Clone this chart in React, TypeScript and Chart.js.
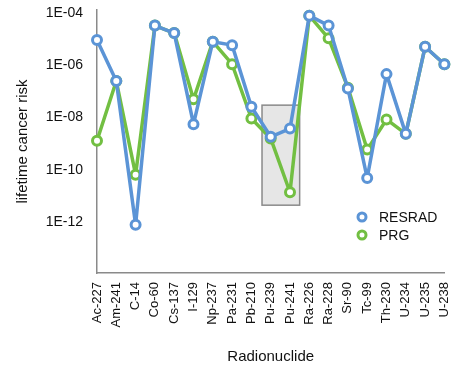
import { useEffect, useRef } from "react";
import { Chart, registerables } from "chart.js";

Chart.register(...registerables);

const categories = [
  "Ac-227", "Am-241", "C-14", "Co-60", "Cs-137", "I-129", "Np-237", "Pa-231", "Pb-210",
  "Pu-239", "Pu-241", "Ra-226", "Ra-228", "Sr-90", "Tc-99", "Th-230", "U-234", "U-235", "U-238",
];

const resradValues = [
  9.3e-6, 2.5e-7, 8e-13, 3.3e-5, 1.7e-5, 5.6e-9, 8e-6, 5.9e-6, 2.6e-8,
  1.85e-9, 3.8e-9, 7.9e-5, 3.3e-5, 1.3e-7, 4.9e-11, 4.6e-7, 2.4e-9, 5.1e-6, 1.1e-6,
];

const prgValues = [
  1.3e-9, 2.5e-7, 6.6e-11, 3.3e-5, 1.7e-5, 5e-8, 8e-6, 1.1e-6, 9.3e-9,
  1.6e-9, 1.4e-11, 7.9e-5, 1.07e-5, 1.4e-7, 6e-10, 8.5e-9, 2.4e-9, 5.1e-6, 1.1e-6,
];

const seriesNames = ["RESRAD", "PRG"];

const yTickValues = [1e-12, 1e-10, 1e-8, 1e-6, 1e-4];
const yTickLabels = ["1E-12", "1E-10", "1E-08", "1E-06", "1E-04"];
const yRange = [1.15e-14, 1.3e-4];

// highlight box around Pu-239 / Pu-241 (category index range, value range)
const highlightX = [8.55, 10.5];
const highlightY = [4.5e-12, 3.0e-8];

const BLUE = "#5b94d6";
const GREEN = "#72bf42";
const AXIS = "#8a8a8a";
const TEXT = "#111111";
const FONT = "'Liberation Sans', Arial, Helvetica, sans-serif";

const highlightPlugin = {
  id: "highlightBox",
  beforeDatasetsDraw(chart: any) {
    const { ctx, scales } = chart;
    const x = scales.x;
    const y = scales.y;
    const x0 = x.getPixelForValue(highlightX[0]);
    const x1 = x.getPixelForValue(highlightX[1]);
    const y0 = y.getPixelForValue(highlightY[1]);
    const y1 = y.getPixelForValue(highlightY[0]);
    ctx.save();
    ctx.fillStyle = "#e6e6e6";
    ctx.fillRect(x0, y0, x1 - x0, y1 - y0);
    ctx.strokeStyle = AXIS;
    ctx.lineWidth = 1.5;
    ctx.strokeRect(x0, y0, x1 - x0, y1 - y0);
    ctx.restore();
  },
};

const legendPlugin = {
  id: "insideLegend",
  afterDraw(chart: any) {
    const { ctx } = chart;
    const baseX = 362;
    const baseY = 217;
    const rowGap = 18;
    ctx.save();
    chart.data.datasets.forEach((ds: any, i: number) => {
      const cy = baseY + i * rowGap;
      ctx.beginPath();
      ctx.arc(baseX, cy, 4, 0, Math.PI * 2);
      ctx.fillStyle = "#ffffff";
      ctx.fill();
      ctx.lineWidth = 3;
      ctx.strokeStyle = ds.borderColor;
      ctx.stroke();
      ctx.fillStyle = TEXT;
      ctx.font = `14px ${FONT}`;
      ctx.textAlign = "left";
      ctx.textBaseline = "middle";
      ctx.fillText(ds.label, baseX + 17, cy + 1);
    });
    ctx.restore();
  },
};

export default function App() {
  const canvasRef = useRef<HTMLCanvasElement | null>(null);

  useEffect(() => {
    if (!canvasRef.current) return;
    const chart = new Chart(canvasRef.current, {
      type: "line",
      data: {
        labels: categories,
        datasets: [
          {
            label: seriesNames[0],
            data: resradValues,
            borderColor: BLUE,
            backgroundColor: "#ffffff",
            pointBackgroundColor: "#ffffff",
            pointBorderColor: BLUE,
            borderWidth: 3.5,
            borderJoinStyle: "round",
            pointRadius: 4.5,
            pointBorderWidth: 3,
            tension: 0,
            clip: false as any,
          },
          {
            label: seriesNames[1],
            data: prgValues,
            borderColor: GREEN,
            backgroundColor: "#ffffff",
            pointBackgroundColor: "#ffffff",
            pointBorderColor: GREEN,
            borderWidth: 3.5,
            borderJoinStyle: "round",
            pointRadius: 4.5,
            pointBorderWidth: 3,
            tension: 0,
            clip: false as any,
          },
        ],
      },
      options: {
        responsive: false,
        animation: false,
        devicePixelRatio: 1,
        events: [],
        layout: { padding: { left: 0, right: 15, top: 10, bottom: 0 } },
        plugins: {
          legend: { display: false },
          tooltip: { enabled: false },
        },
        scales: {
          x: {
            type: "category",
            offset: false,
            grid: { display: false, drawTicks: false },
            border: { display: true, color: AXIS, width: 1.5 },
            ticks: {
              autoSkip: false,
              maxRotation: 90,
              minRotation: 90,
              padding: 9,
              color: TEXT,
              font: { family: FONT, size: 13 },
            },
            title: {
              display: true,
              text: "Radionuclide",
              color: TEXT,
              font: { family: FONT, size: 15 },
              padding: { top: 0, bottom: 2 },
            },
            afterFit(scale: any) {
              scale.height = 95;
            },
          },
          y: {
            type: "logarithmic",
            min: yRange[0],
            max: yRange[1],
            grid: { display: false, drawTicks: true, tickLength: 13 },
            border: { display: true, color: AXIS, width: 1.5 },
            ticks: {
              padding: 1,
              color: TEXT,
              font: { family: FONT, size: 14 },
              callback(value: any) {
                const idx = yTickValues.findIndex((v) => Math.abs(v - Number(value)) / v < 1e-6);
                return idx >= 0 ? yTickLabels[idx] : "";
              },
            },
            afterBuildTicks(scale: any) {
              scale.ticks = yTickValues.map((v) => ({ value: v, major: true }));
            },
            title: {
              display: true,
              text: "lifetime cancer risk",
              color: TEXT,
              font: { family: FONT, size: 15 },
              padding: { top: 14, bottom: 0 },
            },
            afterFit(scale: any) {
              scale.width = 97;
            },
          },
        },
      },
      plugins: [highlightPlugin, legendPlugin],
    });
    return () => chart.destroy();
  }, []);

  return (
    <div style={{ position: "absolute", left: 0, top: 0, width: 469, height: 368, background: "#ffffff" }}>
      <canvas ref={canvasRef} width={469} height={368} style={{ width: 469, height: 368, display: "block" }} />
    </div>
  );
}
